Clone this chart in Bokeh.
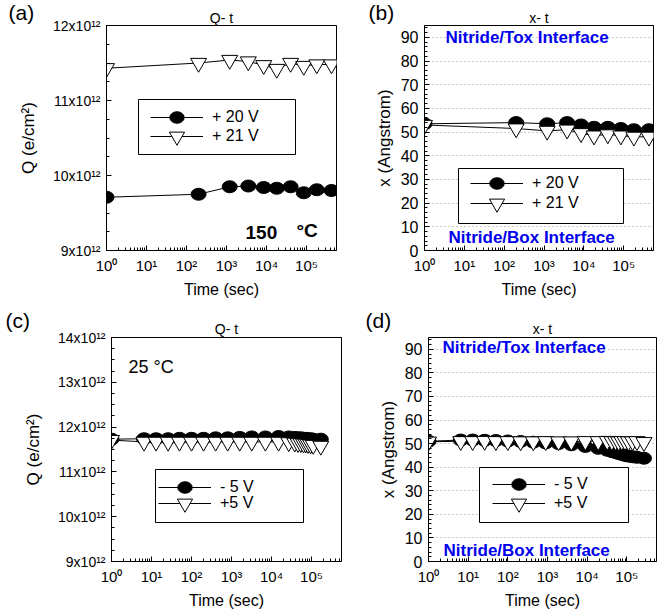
from bokeh.plotting import figure
from bokeh.layouts import column, row
from bokeh.models import (Range1d, FixedTicker, CustomJSTickFormatter, Legend, LegendItem,
                          Label, BoxAnnotation, Title)
from bokeh.embed import file_html
from bokeh.resources import INLINE

# ---------------- data ----------------
time_a = [1, 200, 1200, 3500, 8500, 18000, 40000, 85000, 180000, 420000]
q_20V = [9.71e12, 9.75e12, 9.85e12, 9.86e12, 9.84e12, 9.83e12, 9.85e12, 9.77e12, 9.81e12, 9.80e12]
q_21V = [11.43e12, 11.50e12, 11.54e12, 11.52e12, 11.47e12, 11.42e12, 11.50e12, 11.46e12, 11.48e12, 11.48e12]

time_b = [1, 200, 1200, 3800, 8500, 18000, 40000, 85000, 180000, 430000]
x_20V = [53.5, 54.0, 53.5, 54.0, 53.0, 52.0, 52.0, 51.5, 51.0, 51.0]
x_21V = [53.0, 51.5, 50.5, 51.0, 49.5, 48.5, 49.0, 48.5, 48.0, 48.0]

time_c = [1, 6.5, 13, 26, 50, 100, 200, 400, 800, 1600, 3200, 7000, 15000, 27000,
          38000, 46000, 54000, 63000, 72000, 82000, 95000, 110000, 170000]
q_m5V = [11.73e12, 11.74e12, 11.74e12, 11.74e12, 11.75e12, 11.75e12, 11.75e12, 11.76e12,
         11.76e12, 11.77e12, 11.78e12, 11.78e12, 11.79e12, 11.78e12, 11.77e12, 11.76e12,
         11.76e12, 11.75e12, 11.75e12, 11.74e12, 11.74e12, 11.73e12, 11.73e12]
q_p5V = [11.71e12, 11.67e12, 11.67e12, 11.67e12, 11.67e12, 11.67e12, 11.67e12, 11.67e12,
         11.67e12, 11.67e12, 11.67e12, 11.67e12, 11.67e12, 11.66e12, 11.65e12, 11.64e12,
         11.64e12, 11.63e12, 11.63e12, 11.62e12, 11.61e12, 11.60e12, 11.58e12]

time_d = [1, 6.5, 13, 26, 50, 100, 210, 440, 900, 1900, 4000, 9000, 19000, 32000,
          42000, 52000, 62000, 75000, 90000, 110000, 140000, 180000, 270000]
x_m5V = [51.0, 51.5, 51.5, 51.4, 51.3, 51.1, 50.9, 50.6, 50.3, 50.0, 49.5, 48.8, 48.0,
         47.2, 46.6, 46.2, 45.8, 45.4, 45.0, 44.7, 44.4, 44.2, 43.8]
x_p5V = [50.8, 51.0, 51.0, 51.1, 51.0, 51.0, 50.9, 50.9, 51.0, 50.9, 50.9, 51.0, 51.0,
         51.1, 51.0, 51.0, 50.9, 51.0, 51.0, 50.9, 50.9, 51.0, 50.6]

decade_ticks = [1, 10, 100, 1000, 10000, 100000]
q_ticks_a = [9e12, 10e12, 11e12, 12e12]
q_ticks_c = [9e12, 10e12, 11e12, 12e12, 13e12, 14e12]
pos_ticks = [0, 10, 20, 30, 40, 50, 60, 70, 80, 90]
grid_ticks = [10, 20, 30, 40, 50, 60, 70, 80, 90]

FONT = "Liberation Sans"
BLUE = "#0000ee"

minor_log = [k * 10 ** d for d in range(0, 6) for k in range(2, 10)]


def sup_formatter():
    return CustomJSTickFormatter(code="""
const s = ['\u2070','\u00b9','\u00b2','\u00b3','\u2074','\u2075','\u2076'];
return '10' + s[Math.round(Math.log10(tick))];
""")


def q_formatter():
    return CustomJSTickFormatter(code="return Math.round(tick/1e12) + 'x10\u00b9\u00b2';")


def make_panel(w, h, ml, mr, mt, mb, y_range, title, tag, tag_offset, q_so, tag_so, ylabel):
    p = figure(width=w, height=h, x_axis_type="log", x_range=Range1d(1, 5.6e5),
               y_range=y_range, output_backend="svg", toolbar_location=None,
               min_border_left=ml, min_border_right=mr, min_border_top=mt,
               min_border_bottom=mb, title=None)
    # inner title (chart title), then outer panel tag
    p.add_layout(Title(text=title, align="center", vertical_align="top", standoff=q_so,
                       text_font=FONT, text_font_size="14px", text_font_style="normal",
                       text_color="black"), "above")
    p.add_layout(Title(text=tag, align="left", vertical_align="bottom", offset=tag_offset,
                       standoff=tag_so, text_font=FONT, text_font_size="21px",
                       text_font_style="normal", text_color="black"), "above")
    p.outline_line_color = "black"
    p.outline_line_alpha = 1
    p.xgrid.visible = False
    p.ygrid.visible = False
    for ax in (p.xaxis[0], p.yaxis[0]):
        ax.major_tick_in = 5
        ax.major_tick_out = 0
        ax.minor_tick_in = 3
        ax.minor_tick_out = 0
        ax.axis_line_color = "black"
        ax.major_tick_line_color = "black"
        ax.minor_tick_line_color = "black"
        ax.major_label_text_font = FONT
        ax.major_label_text_color = "black"
        ax.axis_label_text_font = FONT
        ax.axis_label_text_font_style = "normal"
        ax.axis_label_text_color = "black"
    p.xaxis.ticker = FixedTicker(ticks=decade_ticks, minor_ticks=minor_log)
    p.xaxis.formatter = sup_formatter()
    p.xaxis.axis_label = "Time (sec)"
    p.xaxis.axis_label_text_font_size = "16px"
    p.xaxis.major_label_text_font_size = "15px"
    p.xaxis.major_label_standoff = 6
    p.xaxis.axis_label_standoff = 4
    p.yaxis.axis_label = ylabel
    p.yaxis.axis_label_text_font_size = "17px"
    p.yaxis.major_label_standoff = 6
    return p


def add_series(p, t, v1, v2):
    l1 = p.line(t, v1, line_color="black", line_width=1)
    l2 = p.line(t, v2, line_color="black", line_width=1)
    e1 = p.ellipse(t, v1, width=15, height=12, width_units="screen", height_units="screen",
                   fill_color="black", line_color="black")
    t2 = p.scatter(t, v2, marker="inverted_triangle", size=16, fill_color="white",
                   line_color="black", line_width=1)
    return l1, l2, e1, t2


def add_legend(p, box, gx, items):
    left, right, bottom, top = box
    p.add_layout(BoxAnnotation(left=left, right=right, bottom=bottom, top=top,
                               left_units="screen", right_units="screen",
                               top_units="screen", bottom_units="screen",
                               fill_color="white", fill_alpha=1, line_color="black",
                               line_alpha=1, line_width=1, level="annotation"))
    for label, rends, gh, cy in items:
        lg = Legend(items=[LegendItem(label=label, renderers=rends)],
                    location=(gx, cy - gh / 2), glyph_width=53, glyph_height=gh,
                    label_height=gh, label_width=20, padding=0, margin=0, spacing=0,
                    label_standoff=9, border_line_alpha=0, background_fill_alpha=0,
                    label_text_font=FONT, label_text_font_size="16px",
                    label_text_color="black")
        p.add_layout(lg)


def add_text(p, x, y, text, size, style="normal", color="black", align="left"):
    p.add_layout(Label(x=x, y=y, x_units="screen", y_units="screen", text=text,
                       text_font=FONT, text_font_size=size, text_font_style=style,
                       text_color=color, text_baseline="middle", text_align=align))


# ---------------- (a) ----------------
pa = make_panel(340, 300, 106, 4, 25, 50, Range1d(9e12, 12e12), "Q- t", "(a)", -98, -4, -24,
                "Q (e/cm\u00b2)")
pa.yaxis.ticker = FixedTicker(ticks=q_ticks_a,
                              minor_ticks=[9e12 + k * 0.25e12 for k in range(13)])
pa.yaxis.formatter = q_formatter()
pa.yaxis.major_label_text_font_size = "14px"
pa.yaxis.axis_label_standoff = 12
la1, la2, ea1, ta2 = add_series(pa, time_a, q_20V, q_21V)
add_legend(pa, (32, 189, 96, 151), 44,
           [("+ 20 V", [la1, ea1], 18, 133), ("+ 21 V", [la2, ta2], 38, 114)])
add_text(pa, 139, 18, "150", "19px", "bold")
add_text(pa, 190, 20, "\u00b0C", "19px", "bold")

# ---------------- (b) ----------------
pb = make_panel(317, 300, 84, 4, 25, 50, Range1d(0, 95), "x- t", "(b)", -56, -4, -24,
                "x (Angstrom)")
pb.yaxis.ticker = FixedTicker(ticks=pos_ticks, minor_ticks=list(range(0, 96, 2)))
pb.yaxis.major_label_text_font_size = "16px"
pb.yaxis.axis_label_standoff = 4
pb.ygrid.visible = True
pb.ygrid.ticker = FixedTicker(ticks=grid_ticks)
pb.ygrid.grid_line_color = "#999999"
pb.ygrid.grid_line_dash = "1 3"
lb1, lb2, eb1, tb2 = add_series(pb, time_b, x_20V, x_21V)
add_legend(pb, (34, 199, 27, 82), 46,
           [("+ 20 V", [lb1, eb1], 18, 67), ("+ 21 V", [lb2, tb2], 38, 47)])
add_text(pb, 21, 213, "Nitride/Tox Interface", "17px", "bold", BLUE)
add_text(pb, 24, 13, "Nitride/Box Interface", "17px", "bold", BLUE)

# ---------------- (c) ----------------
pc = make_panel(345, 313, 111, 4, 37, 52, Range1d(9e12, 14e12), "Q- t", "(c)", -106, -2, -20,
                "Q (e/cm\u00b2)")
pc.yaxis.ticker = FixedTicker(ticks=q_ticks_c,
                              minor_ticks=[9e12 + k * 0.25e12 for k in range(21)])
pc.yaxis.formatter = q_formatter()
pc.yaxis.major_label_text_font_size = "14px"
pc.yaxis.axis_label_standoff = 12
lc1, lc2, ec1, tc2 = add_series(pc, time_c, q_m5V, q_p5V)
add_legend(pc, (44, 192, 39, 92), 47,
           [("- 5 V", [lc1, ec1], 18, 74), ("+5 V", [lc2, tc2], 38, 58)])
add_text(pc, 17, 195, "25 \u00b0C", "18px")

# ---------------- (d) ----------------
pd = make_panel(312, 313, 83, 1, 37, 52, Range1d(0, 95), "x- t", "(d)", -63, -2, -20,
                "x (Angstrom)")
pd.yaxis.ticker = FixedTicker(ticks=pos_ticks, minor_ticks=list(range(0, 96, 2)))
pd.yaxis.major_label_text_font_size = "16px"
pd.yaxis.axis_label_standoff = 4
pd.ygrid.visible = True
pd.ygrid.ticker = FixedTicker(ticks=grid_ticks)
pd.ygrid.grid_line_color = "#999999"
pd.ygrid.grid_line_dash = "1 3"
ld1, ld2, ed1, td2 = add_series(pd, time_d, x_m5V, x_p5V)
add_legend(pd, (51, 200, 39, 94), 64,
           [("- 5 V", [ld1, ed1], 18, 77), ("+5 V", [ld2, td2], 38, 58)])
add_text(pd, 14, 214, "Nitride/Tox Interface", "17px", "bold", BLUE)
add_text(pd, 15, 11, "Nitride/Box Interface", "17px", "bold", BLUE)

layout = column(row(pa, pb), row(pc, pd))

with open("out.html", "w", encoding="utf-8") as f:
    f.write(file_html(layout, INLINE))
